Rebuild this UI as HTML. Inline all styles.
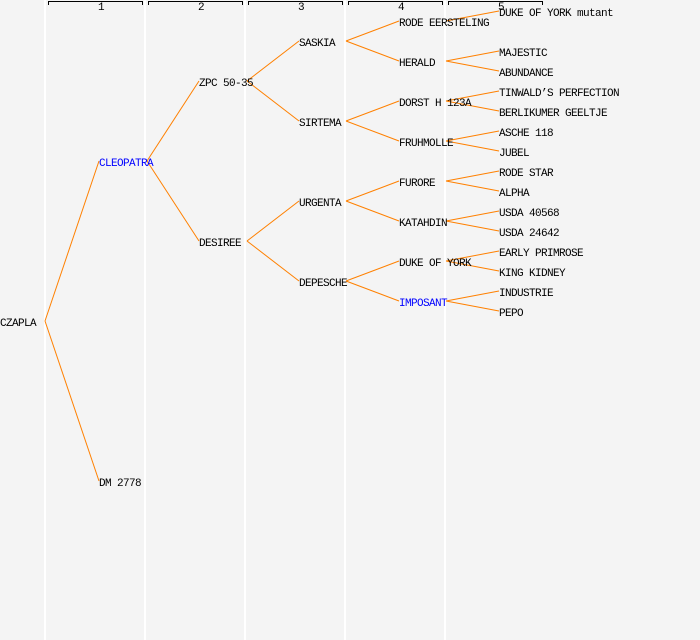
<!DOCTYPE html>
<html><head><meta charset="utf-8"><style>
html,body{margin:0;padding:0;background:#f4f4f4;}
svg{display:block;}
text{font-family:"Liberation Mono",monospace;font-size:11px;letter-spacing:-0.6px;fill:#000;}
</style></head><body>
<svg width="700" height="640" xmlns="http://www.w3.org/2000/svg">
<rect width="700" height="640" fill="#f4f4f4"/>
<g stroke="#ffffff" stroke-width="2">
<line x1="45" y1="0" x2="45" y2="640"/>
<line x1="145" y1="0" x2="145" y2="640"/>
<line x1="245" y1="0" x2="245" y2="640"/>
<line x1="345" y1="0" x2="345" y2="640"/>
<line x1="445" y1="0" x2="445" y2="640"/>
</g>
<g stroke="#000" stroke-width="1" fill="none">
<path d="M48.5 5V1.5H142.5V5"/>
<path d="M148.5 5V1.5H242.5V5"/>
<path d="M248.5 5V1.5H342.5V5"/>
<path d="M348.5 5V1.5H442.5V5"/>
<path d="M448.5 5V1.5H542.5V5"/>
</g>
<g style="font-size:9px;letter-spacing:0">
<text x="98" y="10">1</text><text x="198" y="10">2</text><text x="298" y="10">3</text><text x="398" y="10">4</text><text x="498" y="10">5</text>
</g>
<g stroke="#ff8000" stroke-width="1" fill="none">
<line x1="45" y1="321" x2="99" y2="161"/>
<line x1="45" y1="321" x2="99" y2="481"/>
<line x1="147" y1="161" x2="199" y2="81"/>
<line x1="147" y1="161" x2="199" y2="241"/>
<line x1="247" y1="81" x2="299" y2="41"/>
<line x1="247" y1="81" x2="299" y2="121"/>
<line x1="247" y1="241" x2="299" y2="201"/>
<line x1="247" y1="241" x2="299" y2="281"/>
<line x1="346" y1="41" x2="399" y2="21"/>
<line x1="346" y1="41" x2="399" y2="61"/>
<line x1="346" y1="121" x2="399" y2="101"/>
<line x1="346" y1="121" x2="399" y2="141"/>
<line x1="346" y1="201" x2="399" y2="181"/>
<line x1="346" y1="201" x2="399" y2="221"/>
<line x1="346" y1="281" x2="399" y2="261"/>
<line x1="346" y1="281" x2="399" y2="301"/>
<line x1="446" y1="21" x2="499" y2="11"/>
<line x1="446" y1="61" x2="499" y2="51"/>
<line x1="446" y1="61" x2="499" y2="71"/>
<line x1="446" y1="101" x2="499" y2="91"/>
<line x1="446" y1="101" x2="499" y2="111"/>
<line x1="446" y1="141" x2="499" y2="131"/>
<line x1="446" y1="141" x2="499" y2="151"/>
<line x1="446" y1="181" x2="499" y2="171"/>
<line x1="446" y1="181" x2="499" y2="191"/>
<line x1="446" y1="221" x2="499" y2="211"/>
<line x1="446" y1="221" x2="499" y2="231"/>
<line x1="446" y1="261" x2="499" y2="251"/>
<line x1="446" y1="261" x2="499" y2="271"/>
<line x1="446" y1="301" x2="499" y2="291"/>
<line x1="446" y1="301" x2="499" y2="311"/>
</g>
<g>
<text x="0" y="326">CZAPLA</text>
<text x="99" y="166" style="fill:#0000ff">CLEOPATRA</text>
<text x="99" y="486">DM 2778</text>
<text x="199" y="86">ZPC 50-35</text>
<text x="199" y="246">DESIREE</text>
<text x="299" y="46">SASKIA</text>
<text x="299" y="126">SIRTEMA</text>
<text x="299" y="206">URGENTA</text>
<text x="299" y="286">DEPESCHE</text>
<text x="399" y="26">RODE EERSTELING</text>
<text x="399" y="66">HERALD</text>
<text x="399" y="106">DORST H 123A</text>
<text x="399" y="146">FRUHMOLLE</text>
<text x="399" y="186">FURORE</text>
<text x="399" y="226">KATAHDIN</text>
<text x="399" y="266">DUKE OF YORK</text>
<text x="399" y="306" style="fill:#0000ff">IMPOSANT</text>
<text x="499" y="16">DUKE OF YORK mutant</text>
<text x="499" y="56">MAJESTIC</text>
<text x="499" y="76">ABUNDANCE</text>
<text x="499" y="96">TINWALD’S PERFECTION</text>
<text x="499" y="116">BERLIKUMER GEELTJE</text>
<text x="499" y="136">ASCHE 118</text>
<text x="499" y="156">JUBEL</text>
<text x="499" y="176">RODE STAR</text>
<text x="499" y="196">ALPHA</text>
<text x="499" y="216">USDA 40568</text>
<text x="499" y="236">USDA 24642</text>
<text x="499" y="256">EARLY PRIMROSE</text>
<text x="499" y="276">KING KIDNEY</text>
<text x="499" y="296">INDUSTRIE</text>
<text x="499" y="316">PEPO</text>
</g>
</svg>
</body></html>
